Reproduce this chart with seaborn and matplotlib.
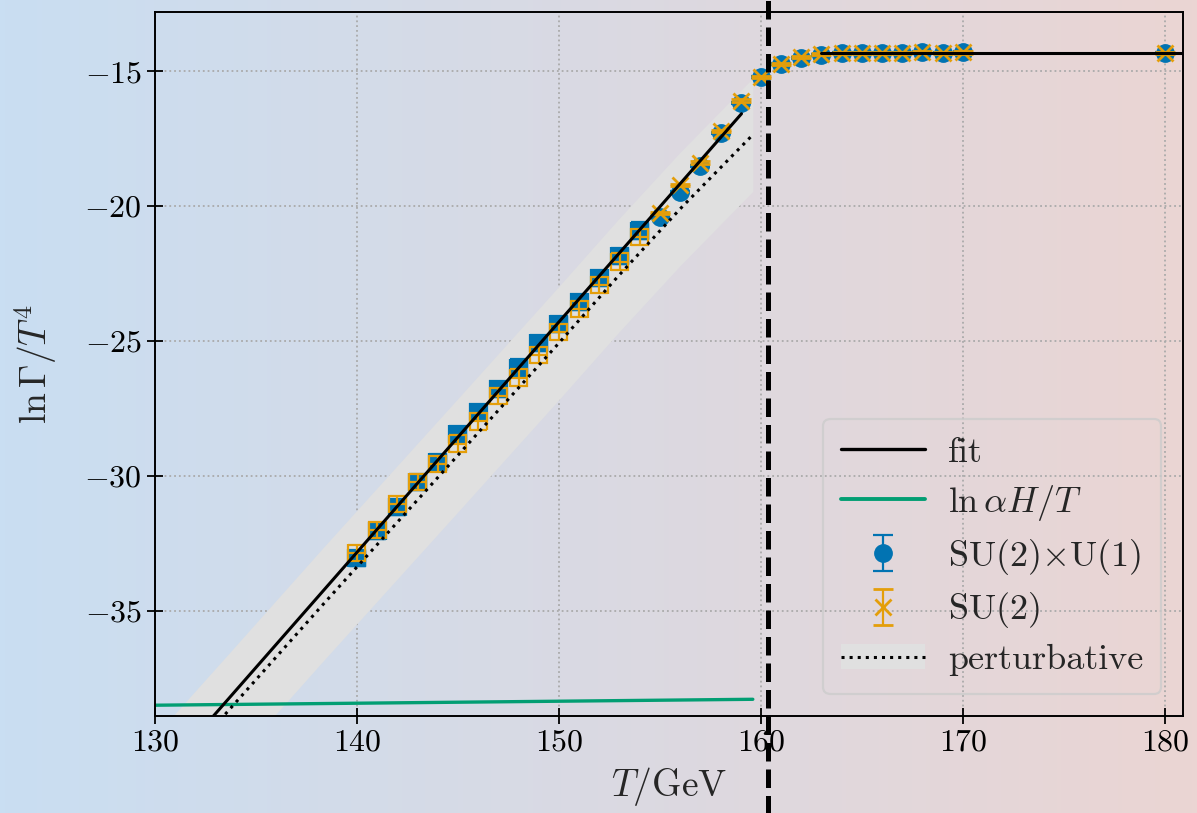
import numpy as np
import pandas as pd
import matplotlib
matplotlib.use("Agg")
import matplotlib.pyplot as plt
import seaborn as sns
from matplotlib.colors import LinearSegmentedColormap
from matplotlib.patches import Patch
from matplotlib.lines import Line2D

# ---------------- data ----------------
T_data = [140, 141, 142, 143, 144, 145, 146, 147, 148, 149, 150, 151, 152, 153, 154,
          155, 156, 157, 158, 159, 160, 161, 162, 163, 164, 165, 166, 167, 168, 169, 170, 180]
lnG_su2u1 = [-33.05, -32.05, -31.15, -30.22, -29.50, -28.45, -27.62, -26.78, -25.98, -25.07,
             -24.38, -23.55, -22.67, -21.85, -20.90, -20.40, -19.46, -18.50, -17.30, -16.18,
             -15.22, -14.74, -14.49, -14.38, -14.33, -14.32, -14.32, -14.31, -14.28, -14.31, -14.29, -14.31]
lnG_su2 = [-32.85, -32.00, -31.05, -30.22, -29.55, -28.80, -27.98, -27.05, -26.35, -25.52,
           -24.65, -23.82, -22.92, -22.05, -21.15, -20.25, -19.22, -18.38, -17.20, -16.08,
           -15.20, -14.72, -14.47, -14.37, -14.32, -14.32, -14.31, -14.31, -14.29, -14.31, -14.30, -14.31]
err_low = 0.30          # statistical error of the low-T points
err_high = 0.04         # statistical error of the high-T points
T_split = 154.5         # below: multicanonical measurements

fit_T_low = [130.0, 159.04]
fit_lnG_low = [-41.37, -16.57]
fit_T_high = [163.0, 181.0]
fit_lnG_high = [-14.31, -14.31]

pert_T = [130.0, 133.6, 138.3, 145.0, 150.0, 152.9, 156.0, 159.6]
pert_lnG = [-41.74, -38.73, -34.78, -29.23, -25.07, -22.62, -20.10, -17.35]
pert_err = 2.1

alphaH_T = [130.0, 159.6]
alphaH_lnG = [-38.50, -38.28]

T_c = 160.35

# ---------------- style ----------------
sns.set_theme(style="ticks")
plt.rcParams["font.family"] = ["serif"]
plt.rcParams["font.serif"] = ["cmr10", "DejaVu Serif"]
plt.rcParams["mathtext.fontset"] = "cm"
plt.rcParams["axes.formatter.use_mathtext"] = True
plt.rcParams["axes.unicode_minus"] = True

pal = sns.color_palette("colorblind")
c_blue, c_green = pal[0], pal[2]
c_orange = "#e49e0a"

fig = plt.figure(figsize=(11.97, 8.13), dpi=100)

# background gradient over the whole figure
bg = fig.add_axes([0, 0, 1, 1], zorder=-10)
cmap = LinearSegmentedColormap.from_list("bg", ["#c9def2", "#ebd5d3"])
bg.imshow(np.linspace(0, 1, 256)[None, :], aspect="auto", cmap=cmap, extent=[0, 1, 0, 1])
bg.set_axis_off()

ax = fig.add_axes([0.1295, 0.1193, 0.9883 - 0.1295, 0.9852 - 0.1193])
ax.set_facecolor("none")

# perturbative band
pT = np.array(pert_T)
pL = np.array(pert_lnG)
ax.fill_between(pT, pL - pert_err, pL + pert_err, color="#e0e0e0", lw=0, zorder=1)

# green line
sns.lineplot(x=alphaH_T, y=alphaH_lnG, ax=ax, color=c_green, lw=2.4, zorder=2,
             estimator=None, sort=False)

# data
df = pd.DataFrame({"T": T_data, "a": lnG_su2u1, "b": lnG_su2})
low = df[df["T"] < T_split]
high = df[df["T"] >= T_split]

ax.errorbar(low["T"], low["a"], yerr=err_low, xerr=0.42, fmt="s", ms=12, color=c_blue,
            ecolor=c_blue, capsize=6.5, elinewidth=1.6, capthick=1.6, zorder=3)
h_a = ax.errorbar(high["T"], high["a"], yerr=err_high, fmt="o", ms=12.5, color=c_blue,
                  ecolor=c_blue, capsize=7, elinewidth=1.6, capthick=1.6, zorder=3)
ax.errorbar(low["T"], low["b"], yerr=err_low, xerr=0.42, fmt="none",
            ecolor=c_orange, capsize=6.5, elinewidth=1.6, capthick=1.6, zorder=4)
h_b = ax.errorbar(high["T"], high["b"], yerr=err_high, fmt="x", ms=12, mew=2, color=c_orange,
                  ecolor=c_orange, capsize=7, elinewidth=1.6, capthick=1.6, zorder=4)

# fit lines
sns.lineplot(x=fit_T_low, y=fit_lnG_low, ax=ax, color="black", lw=2.2, zorder=5,
             estimator=None, sort=False)
sns.lineplot(x=fit_T_high, y=fit_lnG_high, ax=ax, color="black", lw=2.2, zorder=5,
             estimator=None, sort=False)
# perturbative dotted
ax.plot(pT, pL, color="black", ls=":", lw=2.2, zorder=6)

# critical temperature
ax.axvline(T_c, ymin=-0.14, ymax=1.02, color="black", ls="--", lw=3.6, clip_on=False, zorder=7)

ax.set_xlim(130, 180.9)
ax.set_ylim(-38.9, -12.8)
ax.set_xticks([130, 140, 150, 160, 170, 180])
ax.set_yticks([-35, -30, -25, -20, -15])
ax.tick_params(direction="inout", length=12, width=1.3, labelsize=23, colors="black")
ax.grid(True, ls=":", color="#aaaaaa", lw=1.3)
for s in ax.spines.values():
    s.set_color("black")
    s.set_linewidth(1.4)
ax.set_xlabel(r"$T/\mathrm{GeV}$", fontsize=27, labelpad=6)
ax.set_ylabel(r"$\ln\Gamma/T^4$", fontsize=27, labelpad=18)

# legend
h_fit = Line2D([], [], color="black", lw=2.4)
h_green = Line2D([], [], color=c_green, lw=2.8)
h_p = (Patch(facecolor="#e0e0e0", edgecolor="none"), Line2D([], [], color="black", ls=":", lw=2.2))
leg = ax.legend([h_fit, h_green, h_a, h_b, h_p],
                ["fit", r"$\ln\alpha H/T$", r"$\mathrm{SU}(2){\times}\mathrm{U}(1)$",
                 r"$\mathrm{SU}(2)$", "perturbative"],
                loc="lower right", fontsize=26, frameon=True, fancybox=True,
                handlelength=2.3, handletextpad=0.65, labelspacing=0.38,
                borderpad=0.5, borderaxespad=0.6)
leg.get_frame().set_facecolor("none")
leg.get_frame().set_edgecolor("#cccccc")
leg.get_frame().set_linewidth(1.6)
leg.set_zorder(8)

fig.savefig("out.png", dpi=100)
